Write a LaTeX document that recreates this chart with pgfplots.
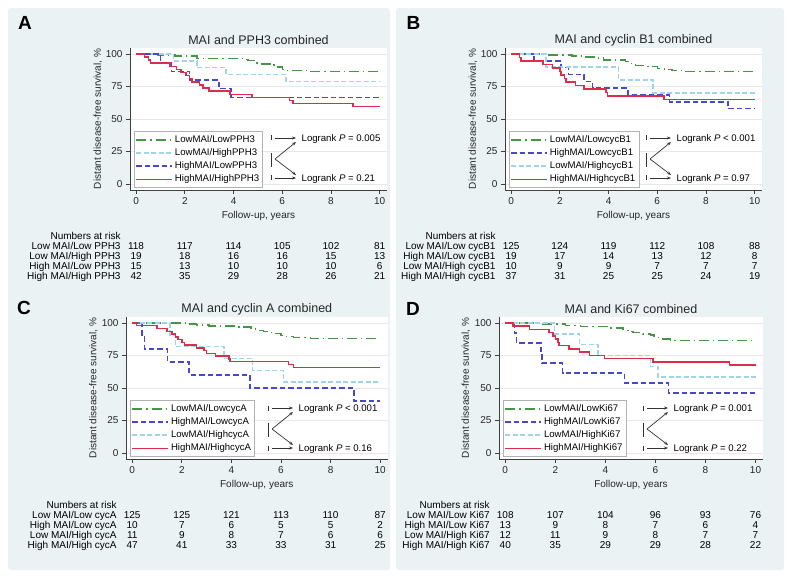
\documentclass[border=0pt]{standalone}
\usepackage{fontspec}
\setmainfont{Liberation Sans}
\usepackage{pgfplots}
\pgfplotsset{compat=1.18}
\usetikzlibrary{arrows.meta}

\definecolor{kmgreen}{RGB}{70,150,70}
\definecolor{kmlblue}{RGB}{160,212,232}
\definecolor{kmblue}{RGB}{72,72,200}
\definecolor{kmred}{RGB}{220,45,75}
\definecolor{panelbg}{RGB}{234,242,244}
\definecolor{gridc}{RGB}{232,232,232}

\newcommand\tf{\fontsize{10}{12}\selectfont}
\newcommand\lf{\fontsize{9.6}{11}\selectfont}

\pgfplotsset{
  km/.style={
    scale only axis, height=142pt,
    xmin=-0.25, xmax=10.3, ymin=-4.6, ymax=104.6,
    axis x line*=bottom, axis y line*=left,
    axis line style={-, black!75, line width=0.7pt},
    axis background/.style={fill=white},
    xtick={0,2,4,6,8,10}, ytick={0,25,50,75,100},
    ymajorgrids, grid style={gridc, line width=0.8pt},
    tick align=outside, major tick length=4pt,
    tick style={black!75, line width=0.7pt},
    ticklabel style={font=\tf, text=black!85},
    /pgf/number format/assume math mode=true,
    xlabel={Follow-up, years},
    ylabel={Distant disease-free survival, \%},
    label style={font=\tf, text=black!85},
    xlabel style={at={(axis description cs:0.5,-0.185)}, anchor=center},
    ylabel style={at={(axis description cs:-0.125,0.5)}, anchor=center},
    title style={at={(axis description cs:0.5,1.012)}, anchor=center,
      font=\fontsize{12.5}{14}\selectfont, text=black!85},
    legend style={at={(axis description cs:0.015,0.412)}, anchor=north west,
      draw=black!30, fill=white, font=\lf, inner sep=1.5pt, row sep=0pt,
      nodes={inner sep=1.9pt, text height=7pt, text depth=2.4pt},
      /tikz/every even column/.append style={column sep=1pt}},
    legend cell align=left,
    legend image code/.code={\draw[##1] (0pt,0pt) -- (36pt,0pt);},
    const plot, no markers, clip=false,
  },
  lowlow/.style={color=kmgreen, line width=1.5pt, dash pattern=on 10pt off 4pt on 1.2pt off 4pt},
  lowhigh/.style={color=kmlblue, line width=1.5pt, dash pattern=on 5pt off 2.5pt},
  highlow/.style={color=kmblue, line width=1.5pt, dash pattern=on 5.5pt off 3pt},
  highhigh/.style={color=kmred, line width=1.5pt, solid},
}

% one row of the numbers-at-risk table, placed under the x axis
\newcommand\riskrow[8]{%
  \node[anchor=base east,font=\tf,xshift=-12pt,yshift=-#1pt] at (axis cs:0,0) {#2};
  \node[anchor=base,font=\tf,yshift=-#1pt] at (axis cs:0,0) {#3};
  \node[anchor=base,font=\tf,yshift=-#1pt] at (axis cs:2,0) {#4};
  \node[anchor=base,font=\tf,yshift=-#1pt] at (axis cs:4,0) {#5};
  \node[anchor=base,font=\tf,yshift=-#1pt] at (axis cs:6,0) {#6};
  \node[anchor=base,font=\tf,yshift=-#1pt] at (axis cs:8,0) {#7};
  \node[anchor=base,font=\tf,yshift=-#1pt] at (axis cs:10,0) {#8};
}
\newcommand\risktitle{%
  \node[anchor=base east,font=\tf,xshift=-12pt,yshift=-55.6pt] at (axis cs:0,0) {Numbers at risk};
}

% log-rank annotation beside the legend
\newcommand\logrank[4]{%
  \begin{scope}[x=1pt,y=-1pt,shift={(#1,#2)},line width=0.7pt,black!80]
    \draw (0,-2.5) -- (0,2.5);
    \draw[-{Stealth[length=4pt,width=3pt]}] (4,0) -- (25,0);
    \node[anchor=base west,font=\lf,text=black] at (27,3.6) {Logrank \textit{P} #3};
    \draw (0,15) -- (0,29);
    \draw[-{Stealth[length=4pt,width=3pt]}] (4,21) -- (25,4);
    \draw[-{Stealth[length=4pt,width=3pt]}] (4,21) -- (25,37);
    \draw (0,37.5) -- (0,42.5);
    \draw[-{Stealth[length=4pt,width=3pt]}] (4,40) -- (25,40);
    \node[anchor=base west,font=\lf,text=black] at (27,43.6) {Logrank \textit{P} #4};
  \end{scope}
}

\begin{document}
\begin{tikzpicture}
\begin{scope}[x=1pt,y=-1pt]
  \path (0,0) rectangle (792,580);
  \fill[panelbg, rounded corners=3pt] (8,8) rectangle (390,570);
  \fill[panelbg, rounded corners=3pt] (396,8) rectangle (784,570);
  \node[font=\bfseries\fontsize{19}{20}\selectfont] at (25,22.5) {A};
  \node[font=\bfseries\fontsize{19}{20}\selectfont] at (413.5,22.5) {B};
  \node[font=\bfseries\fontsize{19}{20}\selectfont] at (24,308) {C};
  \node[font=\bfseries\fontsize{19}{20}\selectfont] at (413,309) {D};
\end{scope}

% ---------------- A ----------------
\begin{axis}[km, width=257pt, at={(130pt,-190pt)}, anchor=south west,
  title={MAI and PPH3 combined}]
\addplot[lowlow] coordinates {(0,100)(0.9,99.2)(1.6,98.3)(2.5,96.6)(4.5,95.8)(4.6,94.9)(4.9,93.2)(5.1,92.4)(5.5,91.5)(5.8,89.8)(6.0,88.1)(6.2,87.3)(7.0,86.4)(10,86.4)};
\addlegendentry{LowMAI/LowPPH3}
\addplot[lowhigh] coordinates {(0,100)(1.53,94.7)(2.5,89.5)(3.7,84.2)(6.15,78.9)(10,78.9)};
\addlegendentry{LowMAI/HighPPH3}
\addplot[highlow] coordinates {(0,100)(1.0,93.3)(1.45,86.7)(2.2,80)(3.4,73.3)(3.9,66.7)(10,66.7)};
\addlegendentry{HighMAI/LowPPH3}
\addplot[highhigh] coordinates {(0,100)(0.35,97.6)(0.5,95.2)(0.6,92.9)(1.4,90.5)(1.65,88.1)(1.85,85.7)(2.05,83.3)(2.2,81.0)(2.3,78.6)(2.6,76.2)(2.75,73.8)(3.0,71.4)(3.85,69.0)(4.75,66.7)(6.3,64.3)(6.45,61.9)(8.9,59.5)(10,59.5)};
\addlegendentry{HighMAI/HighPPH3}
\risktitle
\riskrow{65.6}{Low MAI/Low PPH3}{118}{117}{114}{105}{102}{81}
\riskrow{75.6}{Low MAI/High PPH3}{19}{18}{16}{16}{15}{13}
\riskrow{85.6}{High MAI/Low PPH3}{15}{13}{10}{10}{10}{6}
\riskrow{95.6}{High MAI/High PPH3}{42}{35}{29}{28}{26}{21}
\end{axis}

% ---------------- B ----------------
\begin{axis}[km, width=257pt, at={(505pt,-190pt)}, anchor=south west,
  title={MAI and cyclin B1 combined}]
\addplot[lowlow] coordinates {(0,100)(1.5,99.2)(2.5,98.4)(2.9,97.6)(3.5,96.8)(3.8,95.2)(4.7,94.4)(4.9,92.8)(5.1,91.2)(5.6,90.4)(6.0,88.8)(6.3,88.0)(6.6,87.2)(7.1,86.4)(10,86.4)};
\addlegendentry{LowMAI/LowcycB1}
\addplot[highlow] coordinates {(0,100)(0.95,94.7)(2.05,89.5)(2.35,84.2)(3.0,78.9)(3.35,73.7)(4.8,68.4)(6.5,63.2)(8.9,57.9)(10,57.9)};
\addlegendentry{HighMAI/LowcycB1}
\addplot[lowhigh] coordinates {(0,100)(1.43,90)(4.4,80)(5.83,70)(10,70)};
\addlegendentry{LowMAI/HighcycB1}
\addplot[highhigh] coordinates {(0,100)(0.34,97.3)(0.4,94.6)(1.3,91.9)(1.7,89.2)(2.0,86.5)(2.05,83.8)(2.2,81.1)(2.25,78.4)(2.65,75.7)(3.0,73.0)(3.9,70.3)(3.96,67.6)(6.28,64.9)(10,64.9)};
\addlegendentry{HighMAI/HighcycB1}
\risktitle
\riskrow{65.6}{Low MAI/Low cycB1}{125}{124}{119}{112}{108}{88}
\riskrow{75.6}{High MAI/Low cycB1}{19}{17}{14}{13}{12}{8}
\riskrow{85.6}{Low MAI/High cycB1}{10}{9}{9}{7}{7}{7}
\riskrow{95.6}{High MAI/High cycB1}{37}{31}{25}{25}{24}{19}
\end{axis}

% ---------------- C ----------------
\begin{axis}[km, width=261.6pt, at={(126pt,-459pt)}, anchor=south west,
  title={MAI and cyclin A combined}]
\addplot[lowlow] coordinates {(0,100)(2.2,99.2)(2.6,98.4)(3.1,97.6)(4.3,96.8)(4.8,96.0)(4.9,95.2)(5.1,94.4)(5.3,93.6)(5.5,92.8)(5.7,92.0)(6.0,90.4)(6.2,89.6)(6.5,88.8)(7.2,88.0)(10,88.0)};
\addlegendentry{LowMAI/LowcycA}
\addplot[highlow] coordinates {(0,100)(0.4,90)(0.5,80)(1.43,70)(2.3,60)(4.75,50)(8.95,40)(10,40)};
\addlegendentry{HighMAI/LowcycA}
\addplot[lowhigh] coordinates {(0,100)(1.52,90.9)(1.75,81.8)(3.7,72.7)(4.86,63.6)(6.1,54.5)(10,54.5)};
\addlegendentry{LowMAI/HighcycA}
\addplot[highhigh] coordinates {(0,100)(0.17,97.9)(1.0,95.7)(1.4,93.6)(1.6,91.5)(1.75,89.4)(1.85,87.2)(2.0,85.1)(2.1,83.0)(2.6,80.9)(2.9,78.7)(3.0,76.6)(3.35,74.5)(3.9,72.3)(3.95,70.2)(6.3,68.0)(6.5,65.9)(10,65.9)};
\addlegendentry{HighMAI/HighcycA}
\risktitle
\riskrow{65.6}{Low MAI/Low cycA}{125}{125}{121}{113}{110}{87}
\riskrow{75.6}{High MAI/Low cycA}{10}{7}{6}{5}{5}{2}
\riskrow{85.6}{Low MAI/High cycA}{11}{9}{8}{7}{6}{6}
\riskrow{95.6}{High MAI/High cycA}{47}{41}{33}{33}{31}{25}
\end{axis}

% ---------------- D ----------------
\begin{axis}[km, width=264pt, at={(499pt,-459pt)}, anchor=south west,
  title={MAI and Ki67 combined}]
\addplot[lowlow] coordinates {(0,100)(1.5,99.1)(2.4,98.1)(3.0,97.2)(4.2,96.3)(4.7,95.3)(4.9,93.4)(5.1,92.5)(5.5,91.5)(5.8,90.6)(5.95,89.6)(6.1,88.7)(6.3,87.7)(6.6,86.4)(10,86.4)};
\addlegendentry{LowMAI/LowKi67}
\addplot[highlow] coordinates {(0,100)(0.36,92.3)(0.45,84.6)(1.43,76.9)(1.47,69.2)(2.29,61.5)(4.76,53.8)(6.53,46.2)(10,46.2)};
\addlegendentry{HighMAI/LowKi67}
\addplot[lowhigh] coordinates {(0,100)(1.96,91.7)(2.96,83.3)(3.7,75)(5.8,66.7)(6.1,58.3)(10,58.3)};
\addlegendentry{LowMAI/HighKi67}
\addplot[highhigh] coordinates {(0,100)(0.3,97.5)(0.96,95)(1.75,92.5)(1.9,90)(2.0,87.5)(2.1,85)(2.15,82.5)(2.55,80)(2.96,77.5)(3.36,75)(3.96,72.5)(5.9,70)(8.96,67.5)(10,67.5)};
\addlegendentry{HighMAI/HighKi67}
\risktitle
\riskrow{65.6}{Low MAI/Low Ki67}{108}{107}{104}{96}{93}{76}
\riskrow{75.6}{High MAI/Low Ki67}{13}{9}{8}{7}{6}{4}
\riskrow{85.6}{Low MAI/High Ki67}{12}{11}{9}{8}{7}{7}
\riskrow{95.6}{High MAI/High Ki67}{40}{35}{29}{29}{28}{22}
\end{axis}

\logrank{271}{138}{= 0.005}{= 0.21}
\logrank{646}{138}{< 0.001}{= 0.97}
\logrank{268}{408}{< 0.001}{= 0.16}
\logrank{643}{408}{= 0.001}{= 0.22}
\end{tikzpicture}
\end{document}
